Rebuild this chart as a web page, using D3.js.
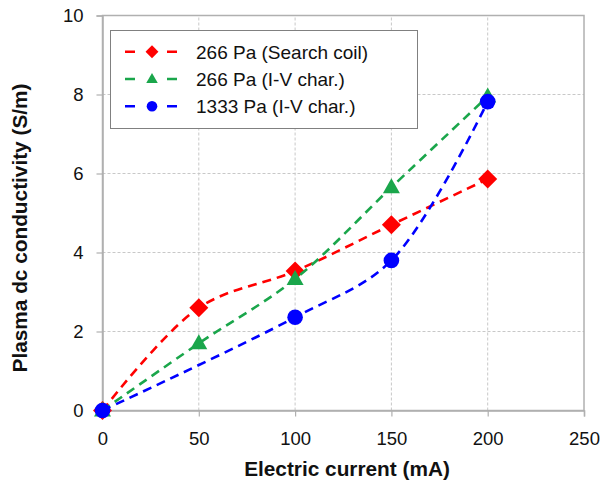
<!DOCTYPE html>
<html><head><meta charset="utf-8">
<script src="https://cdn.jsdelivr.net/npm/d3@7"></script>
<style>body{margin:0;background:#fff}svg{display:block;font-family:"Liberation Sans",Arial,sans-serif}</style>
</head><body><svg id="c" width="602" height="482"></svg>
<script>
const xTicks = [0, 50, 100, 150, 200, 250];
const yTicks = [0, 2, 4, 6, 8, 10];
const seriesNames = ["266 Pa (Search coil)", "266 Pa (I-V char.)", "1333 Pa (I-V char.)"];
const redX = [0, 50, 100, 150, 200];
const redY = [0, 2.6, 3.53, 4.7, 5.86];
const greenX = [0, 50, 100, 150, 200];
const greenY = [0, 1.7, 3.33, 5.65, 7.95];
const blueX = [0, 100, 150, 200];
const blueY = [0, 2.36, 3.8, 7.82];
const colors = ["#ff0000", "#1aa64b", "#0000ff"];
const shapes = ["diamond", "triangle", "circle"];

const svg = d3.select("#c");
const x = d3.scaleLinear().domain([0, 250]).range([102.5, 584]);
const y = d3.scaleLinear().domain([0, 10]).range([410.5, 15.5]);

// grid
svg.append("g").selectAll("line").data(xTicks.slice(1, -1)).join("line")
  .attr("x1", d => x(d)).attr("x2", d => x(d)).attr("y1", y(0)).attr("y2", y(10))
  .attr("stroke", "#c8c8c8").attr("stroke-dasharray", "3,2").attr("stroke-width", 1);
svg.append("g").selectAll("line").data(yTicks.slice(1, -1)).join("line")
  .attr("x1", x(0)).attr("x2", x(250)).attr("y1", d => y(d)).attr("y2", d => y(d))
  .attr("stroke", "#c8c8c8").attr("stroke-dasharray", "3,2").attr("stroke-width", 1);

// frame
svg.append("rect").attr("x", x(0)).attr("y", y(10)).attr("width", x(250) - x(0)).attr("height", y(0) - y(10))
  .attr("fill", "none").attr("stroke", "#b0b0b0").attr("stroke-width", 1.5);

// axes
const xAxis = svg.append("g").attr("transform", `translate(0,${y(0)})`)
  .call(d3.axisBottom(x).tickValues(xTicks).tickSize(6).tickPadding(15));
const yAxis = svg.append("g").attr("transform", `translate(${x(0)},0)`)
  .call(d3.axisLeft(y).tickValues(yTicks).tickSize(6).tickPadding(13));
[xAxis, yAxis].forEach(a => {
  a.select(".domain").attr("stroke", "#b0b0b0").attr("stroke-width", 1.5);
  a.selectAll(".tick line").attr("stroke", "#b0b0b0").attr("stroke-width", 1.2);
  a.selectAll("text").attr("font-size", 18.5).attr("fill", "#111").attr("font-family", '"Liberation Sans",Arial,sans-serif');
});

// axis titles
svg.append("text").attr("x", 347).attr("y", 476).attr("text-anchor", "middle")
  .attr("font-size", 20.8).attr("font-weight", "bold").attr("fill", "#111").text("Electric current (mA)");
svg.append("text").attr("transform", "translate(27,228) rotate(-90)").attr("text-anchor", "middle")
  .attr("font-size", 20.8).attr("font-weight", "bold").attr("fill", "#111").text("Plasma dc conductivity (S/m)");

// series
const data = [
  redX.map((v, i) => [v, redY[i]]),
  greenX.map((v, i) => [v, greenY[i]]),
  blueX.map((v, i) => [v, blueY[i]])
];
const line = d3.line().x(d => x(d[0])).y(d => y(d[1])).curve(d3.curveCatmullRom.alpha(0.5));
function marker(g, shape, color, cx, cy, s) {
  if (shape === "diamond") {
    g.append("path").attr("d", `M${cx},${cy - 9.5 * s}L${cx + 9.5 * s},${cy}L${cx},${cy + 9.5 * s}L${cx - 9.5 * s},${cy}Z`).attr("fill", color);
  } else if (shape === "triangle") {
    g.append("path").attr("d", `M${cx},${cy - 9 * s}L${cx + 8.5 * s},${cy + 6 * s}L${cx - 8.5 * s},${cy + 6 * s}Z`).attr("fill", color);
  } else {
    g.append("circle").attr("cx", cx).attr("cy", cy).attr("r", 7.8 * s).attr("fill", color);
  }
}
data.forEach((pts, i) => {
  const g = svg.append("g");
  g.append("path").attr("d", line(pts)).attr("fill", "none").attr("stroke", colors[i])
    .attr("stroke-width", 2.6).attr("stroke-dasharray", "9,6");
  pts.forEach(p => marker(g, shapes[i], colors[i], x(p[0]), y(p[1]), 1));
});

// legend
const lg = svg.append("g");
lg.append("rect").attr("x", 110.5).attr("y", 30.5).attr("width", 307).attr("height", 98)
  .attr("fill", "#fff").attr("stroke", "#808080").attr("stroke-width", 1);
seriesNames.forEach((name, i) => {
  const cy = 51.8 + i * 27.2;
  lg.append("line").attr("x1", 125).attr("x2", 177).attr("y1", cy).attr("y2", cy)
    .attr("stroke", colors[i]).attr("stroke-width", 2.6).attr("stroke-dasharray", "10,32,10");
  marker(lg, shapes[i], colors[i], 152, cy, 0.68);
  lg.append("text").attr("x", 196).attr("y", cy + 6.7).attr("font-size", 19).attr("fill", "#111").text(name);
});
</script></body></html>
